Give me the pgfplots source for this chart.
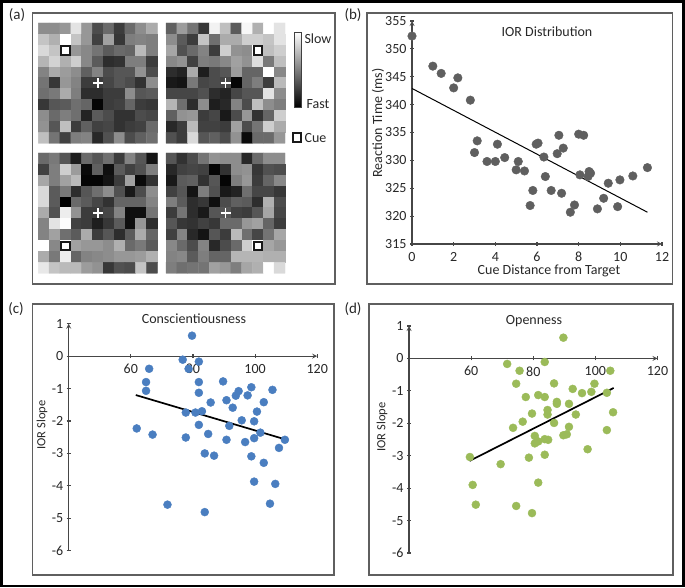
\documentclass[border=0pt]{standalone}
\usepackage{fontspec}
\setmainfont{Carlito}
\usepackage{pgfplots}
\usepackage{pgfplotstable}
\pgfplotsset{compat=1.18}
\definecolor{FrameGray}{RGB}{95,95,95}
\definecolor{AxisGray}{RGB}{70,70,70}
\definecolor{TextGray}{RGB}{40,40,40}
\definecolor{DotGray}{RGB}{95,95,95}
\definecolor{DotBlue}{RGB}{74,126,192}
\definecolor{DotGreen}{RGB}{155,187,89}

% grey levels of the four maps, row by row from the top (11 x 11)
\pgfplotstableread[row sep=\\,header=false]{
140\\140\\150\\225\\150\\75\\105\\60\\105\\140\\170\\
195\\175\\255\\195\\150\\65\\160\\55\\125\\130\\125\\
215\\195\\240\\150\\135\\115\\90\\105\\100\\185\\125\\
180\\210\\175\\205\\135\\90\\45\\50\\125\\125\\60\\
130\\170\\155\\140\\95\\130\\75\\85\\85\\145\\75\\
115\\55\\150\\130\\60\\60\\70\\85\\75\\50\\140\\
110\\120\\170\\125\\45\\45\\60\\60\\140\\85\\90\\
55\\85\\90\\110\\100\\5\\60\\65\\100\\60\\55\\
140\\105\\125\\110\\35\\90\\75\\50\\50\\75\\70\\
145\\85\\190\\60\\95\\65\\70\\50\\60\\65\\105\\
190\\115\\65\\125\\130\\40\\80\\140\\75\\95\\110\\
}\mapA
\pgfplotstableread[row sep=\\,header=false]{
95\\155\\115\\55\\240\\190\\90\\245\\175\\255\\225\\
140\\90\\60\\195\\110\\170\\170\\205\\205\\195\\225\\
165\\80\\105\\130\\60\\205\\145\\140\\255\\190\\205\\
135\\145\\65\\125\\120\\135\\160\\145\\220\\120\\190\\
45\\35\\170\\30\\75\\85\\155\\100\\100\\255\\135\\
25\\20\\120\\70\\75\\70\\5\\100\\125\\60\\185\\
70\\70\\70\\80\\45\\35\\70\\85\\85\\225\\140\\
180\\110\\45\\140\\30\\40\\130\\75\\190\\140\\125\\
95\\145\\150\\60\\70\\25\\75\\150\\50\\100\\205\\
40\\60\\185\\65\\65\\60\\160\\75\\115\\205\\170\\
80\\60\\215\\85\\95\\75\\145\\10\\105\\105\\150\\
}\mapB
\pgfplotstableread[row sep=\\,header=false]{
105\\120\\85\\30\\105\\85\\110\\60\\130\\85\\20\\
65\\125\\205\\155\\10\\95\\15\\90\\65\\80\\125\\
165\\125\\160\\185\\5\\5\\20\\60\\160\\10\\50\\
215\\90\\120\\45\\85\\110\\140\\80\\25\\75\\140\\
215\\90\\0\\105\\90\\70\\50\\100\\100\\100\\130\\
170\\80\\235\\145\\60\\60\\70\\130\\15\\15\\115\\
130\\225\\250\\65\\60\\30\\55\\90\\15\\150\\45\\
130\\160\\110\\90\\170\\60\\85\\45\\90\\170\\100\\
255\\135\\255\\160\\150\\150\\140\\175\\105\\120\\90\\
170\\120\\235\\100\\130\\135\\140\\150\\150\\155\\175\\
230\\195\\185\\185\\155\\145\\55\\80\\75\\195\\75\\
}\mapC
\pgfplotstableread[row sep=\\,header=false]{
85\\50\\75\\115\\145\\140\\140\\40\\105\\140\\140\\
40\\65\\70\\65\\5\\50\\140\\145\\55\\80\\75\\
25\\90\\95\\50\\85\\5\\125\\150\\60\\100\\135\\
65\\85\\20\\125\\80\\25\\35\\110\\70\\70\\55\\
125\\90\\45\\55\\15\\75\\95\\90\\45\\175\\75\\
60\\115\\45\\25\\85\\85\\65\\60\\85\\165\\70\\
85\\55\\50\\65\\55\\105\\105\\150\\160\\100\\60\\
65\\130\\40\\20\\85\\60\\185\\110\\70\\115\\165\\
135\\105\\75\\130\\40\\75\\105\\205\\255\\165\\150\\
130\\135\\90\\125\\100\\100\\180\\180\\180\\175\\175\\
125\\110\\115\\115\\160\\150\\125\\165\\175\\255\\215\\
}\mapD

\pgfplotsset{
  heatmap/.style={
    scale only axis, width=119pt, height=120.3pt, anchor=south west,
    hide axis, clip=false, y dir=reverse,
    xmin=-0.5, xmax=10.5, ymin=-0.5, ymax=10.5,
    point meta min=0, point meta max=255,
    colormap={bw}{gray(0cm)=(0); gray(1cm)=(1)},
  },
  scatterpanel/.style={
    scale only axis, anchor=south west, clip=false,
    enlargelimits=false,
    axis line style={AxisGray, line width=1.2pt, -},
    inner axis line style={-},
    every tick/.style={AxisGray, line width=1.1pt},
    major tick length=4pt,
    tick align=outside,
    tick label style={font=\fontsize{14}{16}\selectfont, text=TextGray},
    xticklabel style={yshift=-2.5pt},
    /pgf/number format/assume math mode=true,
    hide obscured x ticks=false, hide obscured y ticks=false,
    title style={font=\fontsize{14}{16}\selectfont, text=TextGray, anchor=center},
    xlabel style={font=\fontsize{14}{16}\selectfont, text=TextGray, anchor=center},
    ylabel style={font=\fontsize{14}{16}\selectfont, text=TextGray, anchor=center},
  },
  slopepanel/.style={
    scatterpanel, axis on top,
    axis x line=middle, axis y line=left,
    xmin=40, xmax=120, ymin=-6, ymax=1,
    width=248.5pt, height=227pt,
    xtick={60,80,100,120}, ytick={-6,-5,-4,-3,-2,-1,0,1},
    ylabel={IOR Slope},
    ylabel style={font=\fontsize{12.5}{14}\selectfont},
  },
}

% draws one map with its cue square and fixation cross
\newcommand{\heatpanel}[5]{
\begin{axis}[heatmap, at={(#1pt,#2pt)}]
\addplot[matrix plot*, mesh/cols=11, point meta=explicit]
  table[x index=0, y index=0, meta index=0, x expr={mod(\coordindex,11)}, y expr={floor((\coordindex+0.5)/11)}]{#3};
\addplot[only marks, mark=square*, mark size=4.3pt,
  mark options={fill=white, draw=black!90, line width=2pt}] coordinates {(#4,#5)};
\addplot[only marks, mark=+, mark size=5pt,
  mark options={draw=white, line width=1.8pt}] coordinates {(5,5)};
\end{axis}
}

\begin{document}
\begin{tikzpicture}
\path[use as bounding box] (0pt,0pt) rectangle (685pt,588pt);
\fill[white] (0pt,0pt) rectangle (685pt,588pt);
\draw[black, line width=2.6pt] (1.2pt,2pt) rectangle (683.5pt,586.7pt);

% panel frames
\draw[FrameGray, line width=1.6pt] (32.5pt,304pt) rectangle (335pt,575pt);
\draw[FrameGray, line width=1.6pt] (367pt,304pt) rectangle (672.5pt,575pt);
\draw[FrameGray, line width=1.6pt] (32.5pt,13pt) rectangle (334pt,284pt);
\draw[FrameGray, line width=1.6pt] (369pt,13pt) rectangle (673pt,284pt);

\heatpanel{38.3}{444.7}{\mapA}{2}{2}
\heatpanel{166}{444.7}{\mapB}{8}{2}
\heatpanel{38.3}{314.7}{\mapC}{2}{8}
\heatpanel{166}{314.7}{\mapD}{8}{8}

% panel (b)
\begin{axis}[scatterpanel, at={(412pt,344pt)}, width=250pt, height=223pt,
  axis lines=left,
  xmin=0, xmax=12, ymin=315, ymax=355,
  xtick={0,2,...,12}, ytick={315,320,...,355},
  title={IOR Distribution}, title style={at={(axis description cs:0.54,0.924)}},
  xlabel={Cue Distance from Target}, xlabel style={at={(axis description cs:0.548,-0.121)}},
  ylabel={Reaction Time (ms)}, ylabel style={at={(axis description cs:-0.136,0.543)}},
]
\addplot[only marks, mark=*, mark size=4.3pt, mark options={fill=DotGray, draw=DotGray}] coordinates {
(0,352.3) (1.0,346.9) (1.4,345.6) (2.2,344.8) (2.0,343) (2.8,340.8) (3.13,333.5) (3.0,331.4)
(3.6,329.8) (4.0,329.8) (4.1,332.9) (4.45,330.5) (5.0,328.3) (5.1,329.8) (5.4,328.1)
(5.67,321.9) (5.8,324.6) (5.96,332.9) (6.05,333.1) (6.33,330.6) (6.4,327.1) (6.68,324.6)
(6.97,331.2) (7.05,334.5) (7.26,332.2) (7.18,324.1) (7.6,320.7) (7.8,322) (8.0,334.7)
(8.24,334.5) (8.06,327.4) (8.5,328) (8.57,327.7) (8.45,327.1) (8.9,321.3) (9.2,323.2)
(9.42,325.9) (9.87,321.7) (9.98,326.5) (10.6,327.2) (11.3,328.7)
};
\addplot[black, line width=1pt] coordinates {(0,342.9) (11.3,320.7)};
\end{axis}

% panel (c)
\begin{axis}[slopepanel, at={(68.7pt,37.3pt)},
  title={Conscientiousness}, title style={at={(axis description cs:0.504,0.994)}},
  ylabel style={at={(axis description cs:-0.107,0.554)}},
]
\addplot[only marks, mark=*, mark size=4pt, mark options={fill=DotBlue, draw=DotBlue}] coordinates {
(79.7,0.63) (76.7,-0.11) (81.9,-0.17) (65.9,-0.39) (78.6,-0.39) (64.9,-0.8) (81.9,-0.8)
(89.7,-0.78) (64.9,-1.07) (81.9,-1.13) (98.8,-0.96) (94.7,-1.08) (93.8,-1.22) (97.6,-1.21)
(105.6,-1.04) (90.8,-1.36) (85.7,-1.43) (102.8,-1.42) (92.8,-1.59) (100.6,-1.71) (82.9,-1.7)
(80.8,-1.74) (77.7,-1.74) (95.7,-1.98) (99.7,-2.01) (81.9,-2.12) (91.7,-2.15) (61.9,-2.23)
(101.7,-2.36) (84.9,-2.4) (67,-2.42) (77.7,-2.51) (99.7,-2.53) (90.8,-2.58) (109.6,-2.58)
(96.8,-2.65) (107.7,-2.83) (83.8,-3.0) (86.8,-3.07) (98.8,-3.09) (102.8,-3.29) (99.7,-3.87)
(106.5,-3.94) (71.8,-4.58) (104.8,-4.55) (83.8,-4.81)
};
\addplot[black, line width=1.7pt] coordinates {(61.6,-1.2) (109.8,-2.57)};
\end{axis}

% panel (d)
\begin{axis}[slopepanel, at={(409pt,35pt)},
  title={Openness}, title style={at={(axis description cs:0.503,0.996)}},
  ylabel style={at={(axis description cs:-0.109,0.555)}},
]
\addplot[only marks, mark=*, mark size=4pt, mark options={fill=DotGreen, draw=DotGreen}] coordinates {
(89.7,0.64) (83.7,-0.11) (71.6,-0.17) (75.6,-0.38) (104.8,-0.38) (74.5,-0.78) (86.7,-0.77)
(99.7,-0.78) (92.7,-0.94) (95.7,-1.07) (98.7,-1.03) (103.7,-1.06) (81.6,-1.13) (83.7,-1.19)
(77.6,-1.19) (87.6,-1.34) (87.6,-1.4) (91.5,-1.4) (84.6,-1.59) (84.6,-1.73) (93.7,-1.73)
(79.6,-1.7) (105.7,-1.66) (76.6,-1.95) (86.7,-1.99) (73.5,-2.14) (91.5,-2.11) (103.7,-2.21)
(80.5,-2.39) (89.7,-2.37) (90.8,-2.34) (83.7,-2.49) (84.8,-2.51) (81.6,-2.56) (80.5,-2.62)
(97.5,-2.8) (83.7,-2.97) (78.6,-3.06) (59.6,-3.04) (69.5,-3.26) (81.6,-3.83) (60.5,-3.9)
(61.5,-4.51) (74.5,-4.55) (79.6,-4.77)
};
\addplot[black, line width=1.7pt] coordinates {(59.5,-3.16) (105.9,-0.91)};
\end{axis}

% colour key of panel (a)
\shade[top color=white, bottom color=black] (294pt,481pt) rectangle (301pt,556pt);
\draw[black!75, line width=0.9pt] (294pt,481pt) rectangle (301pt,556pt);
\node[font=\fontsize{14}{16}\selectfont, text=TextGray] at (318pt,549pt) {Slow};
\node[font=\fontsize{14}{16}\selectfont, text=TextGray] at (318pt,484pt) {Fast};
\node[font=\fontsize{14}{16}\selectfont, text=TextGray] at (315.5pt,450pt) {Cue};
\draw[black!90, fill=white, line width=2pt] (293pt,446pt) rectangle (301pt,455pt);

% panel letters
\node[font=\fontsize{15}{17}\selectfont, text=TextGray] at (17pt,573pt) {(a)};
\node[font=\fontsize{15}{17}\selectfont, text=TextGray] at (353pt,573pt) {(b)};
\node[font=\fontsize{15}{17}\selectfont, text=TextGray] at (16pt,279pt) {(c)};
\node[font=\fontsize{15}{17}\selectfont, text=TextGray] at (353pt,279pt) {(d)};
\end{tikzpicture}
\end{document}
